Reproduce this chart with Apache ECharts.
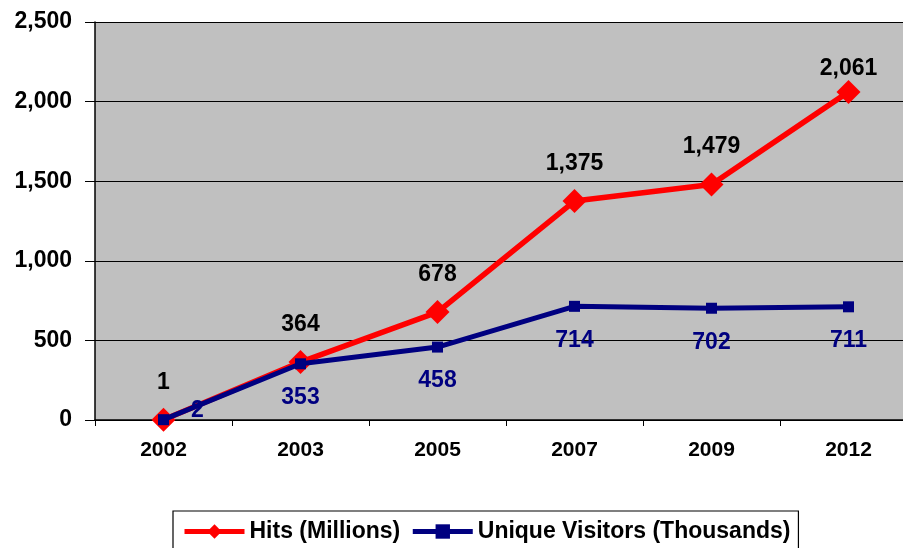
<!DOCTYPE html>
<html><head><meta charset="utf-8">
<script src="https://cdn.jsdelivr.net/npm/echarts@6/dist/echarts.min.js"></script>
<style>html,body{margin:0;padding:0;background:#fff}#c{width:903px;height:548px}</style>
</head><body><div id="c"></div>
<script>
const years = ['2002','2003','2005','2007','2009','2012'];
const hits = [1, 364, 678, 1375, 1479, 2061];
const visitors = [2, 353, 458, 714, 702, 711];
const yTicks = [0, 500, 1000, 1500, 2000, 2500];

const F = 'Liberation Sans, Arial, sans-serif';
const fmt = v => v.toLocaleString('en-US');

const chart = echarts.init(document.getElementById('c'));
chart.setOption({
  animation: false,
  textStyle: {fontFamily: F},
  grid: {left: 95, top: 22, width: 822, height: 398, show: true, backgroundColor: '#c0c0c0', borderWidth: 0,
         outerBoundsMode: 'none', containLabel: false},
  legend: {
    data: ['Hits (Millions)', 'Unique Visitors (Thousands)'],
    left: 173, top: 511,
    borderColor: '#000', borderWidth: 1.2, padding: [9, 8, 14, 9],
    itemWidth: 60, itemHeight: 18, itemGap: 10,
    lineStyle: {width: 5},
    textStyle: {fontFamily: F, fontSize: 23, fontWeight: 'bold', color: '#000'}
  },
  xAxis: {
    type: 'category', data: years, boundaryGap: true,
    axisLine: {lineStyle: {color: '#000', width: 1.5}},
    axisTick: {show: true, length: 6, lineStyle: {color: '#000'}},
    axisLabel: {fontFamily: F, fontSize: 21, fontWeight: 'bold', color: '#000', margin: 20},
    splitLine: {show: false}
  },
  yAxis: {
    type: 'value', min: yTicks[0], max: yTicks[yTicks.length - 1], interval: 500,
    axisLine: {show: true, lineStyle: {color: '#000', width: 1.5}},
    axisTick: {show: true, length: 10, lineStyle: {color: '#000'}},
    axisLabel: {fontFamily: F, fontSize: 23, fontWeight: 'bold', color: '#000', margin: 23, formatter: v => fmt(v)},
    splitLine: {show: true, lineStyle: {color: '#000', width: 1.2}}
  },
  series: [
    {
      name: 'Hits (Millions)', type: 'line', data: hits.map((v, i) => {
        const d = {value: v};
        if (i === hits.length - 1) d.label = {distance: 0};
        return d;
      }),
      color: '#ff0000',
      lineStyle: {width: 5.5, color: '#ff0000'},
      symbol: 'diamond', symbolSize: 24,
      itemStyle: {color: '#ff0000'},
      label: {show: true, position: 'top', distance: 14, fontFamily: F, fontSize: 23, fontWeight: 'bold', color: '#000', formatter: p => fmt(p.value)},
      z: 2
    },
    {
      name: 'Unique Visitors (Thousands)', type: 'line', data: visitors.map((v, i) => {
        const d = {value: v};
        if (i === 0) d.label = {position: 'right', distance: 22, offset: [0, -9]};
        return d;
      }),
      color: '#000080',
      lineStyle: {width: 5, color: '#000080'},
      symbol: 'rect', symbolSize: 11,
      itemStyle: {color: '#000080'},
      label: {show: true, position: 'bottom', distance: 17, fontFamily: F, fontSize: 23, fontWeight: 'bold', color: '#000080', formatter: p => fmt(p.value)},
      z: 3
    }
  ]
});
</script></body></html>
